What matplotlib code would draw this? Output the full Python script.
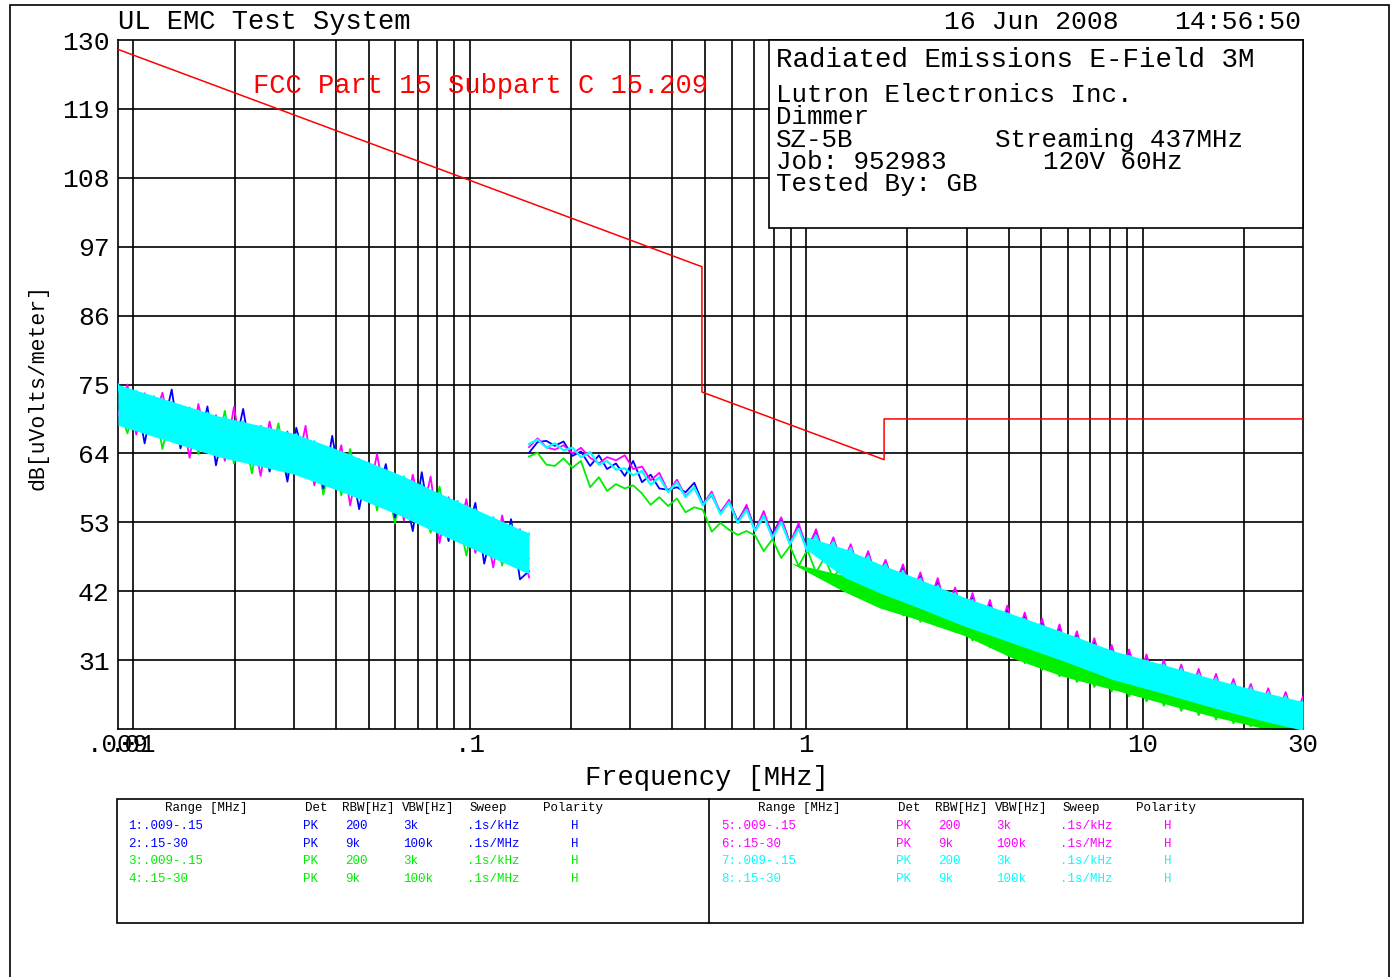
import numpy as np
import matplotlib.pyplot as plt
from matplotlib.patches import Rectangle

W, H = 1392, 977
MONO = 'Liberation Mono'

BLUE = '#0000ff'
GREEN = '#00ee00'
MAGENTA = '#ff00ff'
CYAN = '#00ffff'
RED = '#ff0000'

# FCC 15.209 limit (dBuV/m at 3 m)
limit_f = [0.009, 0.49, 0.49, 1.705, 1.705, 30.0]
limit_db = [128.5, 93.8, 73.8, 63.0, 69.5, 69.5]

# Sweep .009-.15 MHz (traces 1, 3, 5, 7)
f_lo = [0.0090, 0.0096, 0.0102, 0.0108, 0.0115, 0.0122, 0.0130, 0.0138, 0.0147, 0.0156,
        0.0166, 0.0176, 0.0187, 0.0199, 0.0212, 0.0225, 0.0239, 0.0254, 0.0270, 0.0287,
        0.0305, 0.0325, 0.0345, 0.0367, 0.0390, 0.0415, 0.0441, 0.0469, 0.0498, 0.0530,
        0.0563, 0.0599, 0.0637, 0.0677, 0.0720, 0.0765, 0.0813, 0.0865, 0.0919, 0.0977,
        0.1039, 0.1104, 0.1174, 0.1248, 0.1327, 0.1410, 0.1500]
blue_lo = [75.2, 68.5, 73.0, 65.6, 73.1, 67.7, 74.2, 64.8, 69.3, 64.9,
           71.5, 62.1, 68.8, 64.4, 71.1, 62.8, 68.4, 61.1, 66.8, 59.5,
           68.1, 62.4, 65.9, 58.4, 66.8, 58.3, 62.7, 55.1, 62.5, 56.9,
           62.3, 53.8, 58.3, 51.6, 61.0, 52.3, 56.7, 50.0, 56.4, 50.7,
           56.1, 46.4, 52.8, 47.1, 53.5, 43.9, 45.2]
green_lo = [71.8, 67.2, 72.4, 68.0, 72.6, 64.7, 71.2, 65.8, 71.3, 63.9,
            68.5, 64.1, 70.8, 62.4, 68.1, 60.8, 68.4, 63.1, 68.8, 60.5,
            66.1, 60.4, 65.9, 57.4, 63.8, 57.3, 64.7, 58.1, 62.5, 54.9,
            60.3, 52.8, 60.3, 53.6, 58.0, 51.3, 58.7, 51.0, 54.4, 47.7,
            55.1, 49.4, 53.8, 46.1, 51.5, 45.9, 47.2]
magenta_lo = [70.0, 75.0, 67.0, 73.6, 69.1, 73.7, 66.2, 70.8, 63.3, 71.9,
              65.5, 70.1, 62.8, 71.4, 63.1, 67.8, 60.4, 69.1, 62.8, 67.5,
              61.1, 68.4, 58.9, 64.4, 59.8, 65.3, 55.7, 63.1, 56.5, 63.9,
              56.3, 60.8, 53.3, 60.6, 54.0, 60.3, 49.7, 57.0, 50.4, 56.7,
              48.1, 53.4, 45.8, 54.1, 47.5, 51.9, 44.2]
cyan_lo = [75.0, 68.5, 74.0, 67.6, 73.1, 66.7, 72.2, 65.8, 71.3, 64.9,
           70.5, 64.1, 69.8, 63.4, 69.1, 62.8, 68.4, 62.1, 67.8, 61.5,
           67.1, 60.4, 65.9, 59.4, 64.8, 58.3, 63.7, 57.1, 62.5, 55.9,
           61.3, 54.8, 60.3, 53.6, 59.0, 52.3, 57.7, 51.0, 56.4, 49.7,
           55.1, 48.4, 53.8, 47.1, 52.5, 45.9, 51.2]
# core of the dense cyan sweep
band1_f = [0.009, 0.0178, 0.030, 0.042, 0.062, 0.080, 0.141, 0.150]
band1_top = [75.0, 70.0, 67.2, 64.3, 60.6, 57.8, 51.9, 51.3]
band1_bot = [68.5, 63.5, 60.7, 57.8, 54.1, 51.3, 45.4, 44.8]

# Sweep .15-30 MHz (traces 2, 4, 6, 8)
f_hi = [0.150, 0.159, 0.169, 0.179, 0.190, 0.202, 0.214, 0.228, 0.242, 0.256,
        0.272, 0.289, 0.306, 0.325, 0.345, 0.366, 0.389, 0.413, 0.438, 0.465,
        0.493, 0.524, 0.556, 0.590, 0.626, 0.665, 0.705, 0.748, 0.794, 0.843,
        0.895, 0.950, 1.008, 1.070, 1.136, 1.205, 1.279, 1.357, 1.441, 1.529,
        1.623, 1.722, 1.828, 1.941, 2.059, 2.186, 2.320, 2.462, 2.613, 2.773,
        2.943, 3.124, 3.316, 3.519, 3.735, 3.964, 4.207, 4.466, 4.740, 5.030,
        5.339, 5.666, 6.014, 6.383, 6.774, 7.190, 7.631, 8.099, 8.596, 9.123,
        9.682, 10.28, 10.91, 11.57, 12.29, 13.04, 13.84, 14.69, 15.59, 16.54,
        17.56, 18.64, 19.78, 20.99, 22.28, 23.65, 25.10, 26.64, 28.27, 30.00]
blue_hi = [64.1, 65.8, 66.0, 65.2, 65.9, 63.6, 64.3, 62.0, 63.7, 61.5,
           62.4, 60.4, 62.8, 59.4, 60.6, 58.4, 58.2, 58.6, 57.8, 59.3,
           56.0, 57.3, 54.6, 56.4, 53.2, 55.6, 51.8, 54.1, 51.2, 53.6,
           49.7, 52.4, 48.9, 51.6, 47.2, 50.3, 46.4, 49.2, 45.0, 48.1,
           43.9, 46.8, 43.0, 45.9, 41.4, 44.6, 40.5, 43.5, 39.2, 42.0,
           37.8, 41.1, 36.6, 40.0, 35.6, 39.1, 34.8, 38.2, 33.6, 37.0,
           32.9, 36.2, 31.7, 35.0, 30.5, 33.9, 29.6, 33.1, 28.9, 32.1,
           28.0, 31.2, 27.3, 30.6, 26.6, 29.9, 25.9, 28.9, 25.0, 28.2,
           24.3, 27.4, 23.7, 26.8, 22.8, 26.0, 22.2, 25.1, 21.6, 24.8]
green_hi = [63.5, 64.1, 62.2, 62.0, 63.2, 61.7, 62.8, 58.6, 60.2, 58.0,
            59.1, 58.4, 58.9, 57.6, 55.8, 57.0, 55.6, 56.8, 54.6, 55.4,
            55.0, 51.5, 52.9, 51.8, 51.0, 51.6, 50.9, 48.4, 50.3, 47.3,
            49.2, 46.0, 48.6, 45.0, 47.4, 43.9, 46.6, 42.8, 45.3, 41.5,
            44.1, 39.3, 43.0, 38.1, 41.4, 37.1, 40.5, 36.4, 39.4, 35.5,
            38.1, 34.1, 37.0, 33.0, 35.9, 31.8, 34.5, 30.5, 33.4, 29.4,
            32.2, 28.4, 31.3, 27.5, 30.5, 26.7, 29.8, 26.0, 29.0, 25.2,
            28.2, 24.4, 27.5, 23.7, 26.7, 22.9, 26.0, 22.2, 25.3, 21.5,
            24.6, 20.9, 23.9, 20.4, 23.2, 20.2, 22.8, 20.1, 22.4, 20.3]
magenta_hi = [65.0, 66.4, 65.0, 64.6, 65.3, 64.0, 64.9, 63.3, 62.4, 63.4,
              62.9, 63.7, 61.5, 61.9, 59.7, 60.9, 57.9, 59.8, 57.2, 58.6,
              55.8, 57.9, 54.5, 56.6, 52.9, 55.8, 51.6, 54.8, 50.7, 53.8,
              49.6, 52.9, 48.3, 51.9, 47.0, 50.6, 46.1, 49.5, 44.8, 48.4,
              43.6, 47.0, 42.6, 46.3, 41.2, 45.0, 40.0, 44.1, 38.9, 42.6,
              37.4, 41.7, 36.2, 40.6, 35.3, 39.7, 34.2, 38.6, 33.4, 37.6,
              32.4, 36.7, 31.5, 35.6, 30.2, 34.5, 29.4, 33.4, 28.5, 32.7,
              27.8, 31.9, 27.0, 31.0, 26.3, 30.3, 25.5, 29.6, 24.8, 28.8,
              24.1, 28.0, 23.5, 27.2, 22.9, 26.5, 22.0, 25.9, 21.6, 25.2]
cyan_hi = [65.5, 66.2, 64.9, 65.6, 64.5, 64.9, 63.4, 64.2, 62.2, 62.8,
           61.4, 61.6, 60.5, 61.2, 59.0, 60.2, 57.8, 59.4, 57.0, 58.6,
           55.7, 57.5, 54.3, 56.2, 52.9, 55.0, 51.6, 54.0, 50.5, 53.0,
           49.5, 52.0, 48.4, 50.9, 47.2, 49.9, 46.2, 48.9, 44.9, 47.6,
           43.8, 46.3, 42.8, 45.2, 41.5, 44.0, 40.3, 42.9, 39.1, 41.7,
           37.8, 40.6, 36.7, 39.4, 35.7, 38.4, 34.8, 37.5, 33.8, 36.5,
           32.8, 35.5, 31.8, 34.6, 30.6, 33.4, 29.5, 32.5, 28.7, 31.7,
           27.9, 30.9, 27.2, 30.3, 26.5, 29.6, 25.7, 28.8, 24.8, 28.1,
           24.1, 27.3, 23.4, 26.6, 22.7, 25.9, 21.9, 25.2, 21.3, 24.5]
band2_f = [1.0, 1.3, 1.66, 2.08, 2.93, 4.12, 5.80, 8.16, 11.5, 16.2, 22.8, 29.4, 30.0]
band2_top = [50.7, 48.8, 46.3, 44.3, 41.1, 38.3, 35.5, 32.5, 30.3, 28.0, 25.9, 24.5, 24.4]
band2_bot = [48.7, 44.2, 41.7, 39.7, 36.5, 33.7, 30.9, 27.9, 25.7, 23.4, 21.3, 19.9, 19.8]
gband_f = [0.9, 1.3, 1.66, 2.08, 2.93, 4.12, 5.80, 8.16, 11.5, 16.2, 22.8, 30.0]
gband_top = [46.5, 44.5, 41.9, 40.3, 37.6, 33.9, 31.0, 28.9, 26.7, 24.6, 22.7, 22.0]
gband_bot = [46.5, 41.9, 39.3, 37.7, 35.0, 31.3, 28.4, 26.3, 24.1, 22.0, 20.1, 19.6]

y_ticks = [31, 42, 53, 64, 75, 86, 97, 108, 119, 130]
x_ticks = [0.009, 0.01, 0.1, 1, 10, 30]
x_labels = ['.009', '.01', '.1', '1', '10', '30']
x_grid = [0.01, 0.02, 0.03, 0.04, 0.05, 0.06, 0.07, 0.08, 0.09,
          0.1, 0.2, 0.3, 0.4, 0.5, 0.6, 0.7, 0.8, 0.9,
          1, 2, 3, 4, 5, 6, 7, 8, 9, 10, 20]

info_lines = ['Lutron Electronics Inc.', 'Dimmer', 'SZ-5B', 'Job: 952983', 'Tested By: GB']

# settings table
tbl_header = ['Range [MHz]', 'Det', 'RBW[Hz]', 'VBW[Hz]', 'Sweep', 'Polarity']
tbl_rows = [
    ['1:.009-.15', 'PK', '200', '3k', '.1s/kHz', 'H'],
    ['2:.15-30', 'PK', '9k', '100k', '.1s/MHz', 'H'],
    ['3:.009-.15', 'PK', '200', '3k', '.1s/kHz', 'H'],
    ['4:.15-30', 'PK', '9k', '100k', '.1s/MHz', 'H'],
    ['5:.009-.15', 'PK', '200', '3k', '.1s/kHz', 'H'],
    ['6:.15-30', 'PK', '9k', '100k', '.1s/MHz', 'H'],
    ['7:.009-.15', 'PK', '200', '3k', '.1s/kHz', 'H'],
    ['8:.15-30', 'PK', '9k', '100k', '.1s/MHz', 'H'],
]
row_colors = [BLUE, BLUE, GREEN, GREEN, MAGENTA, MAGENTA, CYAN, CYAN]


def fx(x):
    return x / W


def fy(y):
    return 1 - y / H


def ftext(x, y, s, **kw):
    kw.setdefault('family', MONO)
    fig.text(fx(x), fy(y), s, **kw)


fig = plt.figure(figsize=(W / 100, H / 100), dpi=100)
ax = fig.add_axes([fx(118), fy(729), 1185 / W, 689 / H])
ax.set_xscale('log')
ax.set_xlim(0.009, 30)
ax.set_ylim(20, 130)

# grid
for g in x_grid:
    ax.axvline(g, color='black', lw=1.2, zorder=1)
for t in y_ticks[:-1]:
    ax.axhline(t, color='black', lw=1.2, zorder=1)

ax.set_yticks(y_ticks)
ax.set_yticklabels([str(t) for t in y_ticks], family=MONO, fontsize=19)
ax.set_xticks(x_ticks)
ax.set_xticklabels(x_labels, family=MONO, fontsize=18.5)
ax.xaxis.set_minor_locator(plt.NullLocator())
ax.tick_params(axis='both', length=0)
ax.tick_params(axis='y', pad=6)
ax.tick_params(axis='x', pad=3)
for s in ax.spines.values():
    s.set_linewidth(1.2)

# traces: green, blue, magenta, then cyan on top
lw = 1.3
ax.fill_between(gband_f, gband_bot, gband_top, color=GREEN, lw=0, zorder=2)
ax.plot(f_lo, green_lo, color=GREEN, lw=lw, zorder=2)
ax.plot(f_hi, green_hi, color=GREEN, lw=lw, zorder=2)
ax.plot(f_lo, blue_lo, color=BLUE, lw=lw, zorder=3)
ax.plot(f_hi, blue_hi, color=BLUE, lw=lw, zorder=3)
ax.plot(f_lo, magenta_lo, color=MAGENTA, lw=lw, zorder=3)
ax.plot(f_hi, magenta_hi, color=MAGENTA, lw=lw, zorder=3)
ax.fill_between(band1_f, band1_bot, band1_top, color=CYAN, lw=0, zorder=4)
ax.fill_between(band2_f, band2_bot, band2_top, color=CYAN, lw=0, zorder=4)
ax.plot(f_lo, cyan_lo, color=CYAN, lw=1.6, zorder=4)
ax.plot(f_hi, cyan_hi, color=CYAN, lw=1.6, zorder=4)

ax.plot(limit_f, limit_db, color=RED, lw=1.1, zorder=5)

# header texts
ftext(118, 22, 'UL EMC Test System', fontsize=19.5, va='center')
ftext(944, 22, '16 Jun 2008', fontsize=19, va='center')
ftext(1301, 22, '14:56:50', fontsize=19, va='center', ha='right')
ftext(253, 86, 'FCC Part 15 Subpart C 15.209', fontsize=19.5, va='center', color=RED)
ftext(38, 387, 'dB[uVolts/meter]', fontsize=15.5, va='center', ha='center', rotation=90)
ftext(707, 778, 'Frequency [MHz]', fontsize=19.5, va='center', ha='center')

# info box
fig.patches.append(Rectangle((fx(769), fy(228)), 534 / W, 188 / H, transform=fig.transFigure,
                             facecolor='white', edgecolor='black', lw=1.2, zorder=2))
ftext(776, 60, 'Radiated Emissions E-Field 3M', fontsize=19.8, va='center', zorder=3)
for line, y in zip(info_lines, [95, 117, 140, 162, 184]):
    ftext(776, y, line, fontsize=18.6, va='center', zorder=3)
ftext(995, 140, 'Streaming 437MHz', fontsize=18.6, va='center', zorder=3)
ftext(1043, 162, '120V 60Hz', fontsize=18.6, va='center', zorder=3)

# settings table
fig.patches.append(Rectangle((fx(117), fy(923)), 1186 / W, 124 / H, transform=fig.transFigure,
                             facecolor='none', edgecolor='black', lw=1.2))
fig.add_artist(plt.Line2D([fx(709), fx(709)], [fy(799), fy(923)], color='black', lw=1.2,
                          transform=fig.transFigure))
head_x = [165, 305, 342, 402, 470, 543]
cell_x = [128, 303, 345, 403, 467, 571]
row_y = [826, 844, 861, 879]
for half in range(2):
    dx = 593 * half
    for x, s in zip(head_x, tbl_header):
        ftext(x + dx, 808, s, fontsize=9, va='center')
    for r in range(4):
        idx = half * 4 + r
        for x, s in zip(cell_x, tbl_rows[idx]):
            ftext(x + dx, row_y[r], s, fontsize=9, va='center', color=row_colors[idx])

# outer frame
fig.patches.append(Rectangle((fx(10), fy(995)), 1379 / W, 990 / H, transform=fig.transFigure,
                             facecolor='none', edgecolor='black', lw=1.2))

fig.savefig('out.png', dpi=100)
